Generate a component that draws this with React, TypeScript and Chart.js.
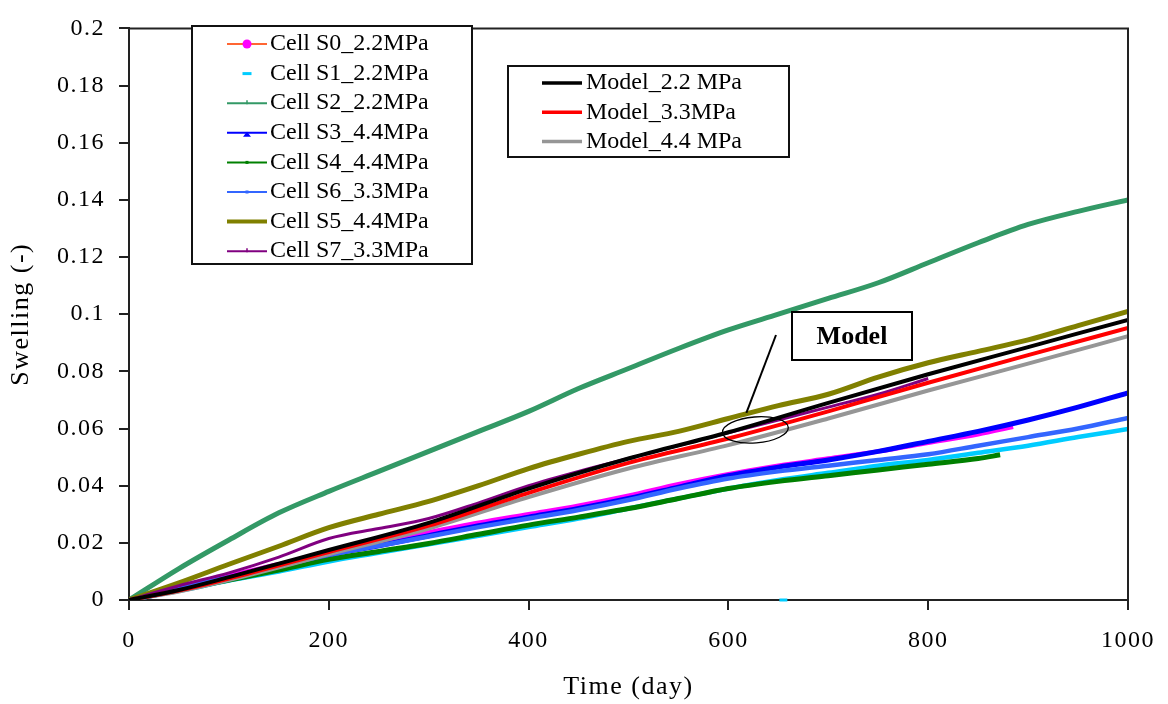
import React, { useEffect, useRef } from 'react';
import { Chart, registerables } from 'chart.js';

Chart.register(...registerables);

// ---------------- data ----------------
const DAYS = [0, 50, 100, 150, 200, 250, 300, 350, 400, 450, 500, 550, 600, 650, 700, 750, 800, 850, 900, 950, 1000];
const S0_DAYS = [0, 50, 100, 150, 200, 250, 300, 350, 400, 450, 500, 550, 600, 650, 700, 750, 800, 850, 885];
const S4_DAYS = [0, 50, 100, 150, 200, 250, 300, 350, 400, 450, 500, 550, 600, 650, 700, 750, 800, 850, 872];
const S7_DAYS = [0, 50, 100, 150, 200, 250, 300, 350, 400, 450, 500, 550, 600, 650, 700, 750, 800];
const MODEL_DAYS = [0, 50, 100, 200, 300, 400, 500, 600, 700, 800, 900, 1000];

const S0_VALUES = [0, 0.004, 0.0085, 0.0125, 0.0166, 0.02, 0.0236, 0.027, 0.03, 0.033, 0.0365, 0.0405, 0.044, 0.047, 0.0495, 0.052, 0.055, 0.058, 0.0606];
const S1_VALUES = [0, 0.0032, 0.0068, 0.01, 0.0135, 0.0165, 0.0195, 0.0225, 0.0255, 0.0285, 0.032, 0.0355, 0.039, 0.042, 0.0445, 0.047, 0.049, 0.0515, 0.054, 0.057, 0.0598];
const S1_OUTLIER_DAYS = [655];
const S1_OUTLIER_VALUES = [0];
const S2_VALUES = [0, 0.011, 0.021, 0.0305, 0.038, 0.045, 0.052, 0.059, 0.066, 0.074, 0.081, 0.088, 0.0945, 0.1, 0.1055, 0.111, 0.118, 0.125, 0.1314, 0.136, 0.14];
const S3_VALUES = [0, 0.0035, 0.0075, 0.0115, 0.0158, 0.019, 0.0225, 0.026, 0.029, 0.032, 0.0355, 0.0395, 0.0435, 0.0465, 0.049, 0.052, 0.0555, 0.059, 0.063, 0.0675, 0.0725];
const S4_VALUES = [0, 0.0035, 0.007, 0.0105, 0.0142, 0.017, 0.0198, 0.023, 0.0262, 0.029, 0.032, 0.0355, 0.039, 0.0415, 0.0435, 0.0455, 0.0475, 0.0495, 0.0508];
const S6_VALUES = [0, 0.004, 0.008, 0.0118, 0.0158, 0.019, 0.0222, 0.0255, 0.0285, 0.0315, 0.035, 0.039, 0.0425, 0.045, 0.047, 0.049, 0.051, 0.054, 0.057, 0.06, 0.0637];
const S5_VALUES = [0, 0.006, 0.0125, 0.0188, 0.0253, 0.03, 0.0345, 0.04, 0.046, 0.051, 0.0555, 0.059, 0.0635, 0.068, 0.072, 0.078, 0.083, 0.087, 0.091, 0.096, 0.101];
const S7_VALUES = [0, 0.005, 0.0095, 0.015, 0.0215, 0.025, 0.0285, 0.034, 0.04, 0.045, 0.0495, 0.054, 0.0585, 0.063, 0.0675, 0.072, 0.0775];
const MODEL_22_VALUES = [0, 0.0035, 0.008, 0.0175, 0.027, 0.039, 0.0495, 0.0587, 0.069, 0.079, 0.0885, 0.098];
const MODEL_33_VALUES = [0, 0.0033, 0.0075, 0.0168, 0.026, 0.0375, 0.048, 0.0565, 0.066, 0.076, 0.0857, 0.0952];
const MODEL_44_VALUES = [0, 0.003, 0.007, 0.016, 0.025, 0.036, 0.046, 0.0542, 0.0635, 0.0733, 0.0827, 0.0923];

const X_TICK_LABELS = ['0', '200', '400', '600', '800', '1000'];
const Y_TICK_LABELS = ['0', '0.02', '0.04', '0.06', '0.08', '0.1', '0.12', '0.14', '0.16', '0.18', '0.2'];

const CELL_LABELS = ['Cell S0_2.2MPa', 'Cell S1_2.2MPa', 'Cell S2_2.2MPa', 'Cell S3_4.4MPa', 'Cell S4_4.4MPa', 'Cell S6_3.3MPa', 'Cell S5_4.4MPa', 'Cell S7_3.3MPa'];
const MODEL_LABELS = ['Model_2.2 MPa', 'Model_3.3MPa', 'Model_4.4 MPa'];
const ANNOTATION_TEXT = 'Model';

// ---------------- styles ----------------
const SERIF = '"Liberation Serif", "Times New Roman", serif';
const C = {
  s0: '#ff00ff', s0Line: '#ff6633', s1: '#00ccff', s2: '#339966', s3: '#0000ff', s4: '#008000',
  s6: '#3366ff', s5: '#808000', s7: '#800080', m22: '#000000', m33: '#ff0000', m44: '#969696',
};

const pts = (days: number[], vals: number[]) => days.map((d, i) => ({ x: d, y: vals[i] }));

const line = (label: string, data: any[], color: string, width: number) => ({
  label, data, borderColor: color, backgroundColor: color, borderWidth: width,
  pointRadius: 0, fill: false, cubicInterpolationMode: 'monotone',
});

const datasets: any[] = [
  line(MODEL_LABELS[0], pts(MODEL_DAYS, MODEL_22_VALUES), C.m22, 4),
  line(MODEL_LABELS[1], pts(MODEL_DAYS, MODEL_33_VALUES), C.m33, 4),
  line(MODEL_LABELS[2], pts(MODEL_DAYS, MODEL_44_VALUES), C.m44, 4),
  line(CELL_LABELS[7], pts(S7_DAYS, S7_VALUES), C.s7, 3),
  line(CELL_LABELS[6], pts(DAYS, S5_VALUES), C.s5, 5),
  line(CELL_LABELS[5], pts(DAYS, S6_VALUES), C.s6, 4.5),
  line(CELL_LABELS[4], pts(S4_DAYS, S4_VALUES), C.s4, 5),
  line(CELL_LABELS[3], pts(DAYS, S3_VALUES), C.s3, 5),
  line(CELL_LABELS[2], pts(DAYS, S2_VALUES), C.s2, 5),
  line(CELL_LABELS[1], pts(DAYS, S1_VALUES), C.s1, 4.5),
  line(CELL_LABELS[0], pts(S0_DAYS, S0_VALUES), C.s0, 4.5),
  {
    label: CELL_LABELS[1] + ' (outlier)',
    data: pts(S1_OUTLIER_DAYS, S1_OUTLIER_VALUES),
    showLine: false, pointStyle: 'line', pointRadius: 4, pointBorderWidth: 3,
    borderColor: C.s1, backgroundColor: C.s1, clip: false,
  },
];

// legend marker types
type Marker = 'circle' | 'dash' | 'tick' | 'triangle' | 'dot' | 'none';
const CELL_LEGEND: { line: string | null; marker: Marker; mcolor: string; width: number }[] = [
  { line: C.s0Line, marker: 'circle', mcolor: C.s0, width: 2 },
  { line: null, marker: 'dash', mcolor: C.s1, width: 2 },
  { line: C.s2, marker: 'tick', mcolor: C.s2, width: 2 },
  { line: C.s3, marker: 'triangle', mcolor: C.s3, width: 2 },
  { line: C.s4, marker: 'dot', mcolor: C.s4, width: 2 },
  { line: C.s6, marker: 'dot', mcolor: C.s6, width: 2 },
  { line: C.s5, marker: 'none', mcolor: C.s5, width: 4 },
  { line: C.s7, marker: 'tick', mcolor: C.s7, width: 2 },
];
const MODEL_LEGEND = [C.m22, C.m33, C.m44];

const decor = {
  id: 'decor',
  beforeDraw(chart: any) {
    chart.ctx.letterSpacing = '1.5px';
  },
  afterDraw(chart: any) {
    const ctx = chart.ctx as CanvasRenderingContext2D;
    const { left, right, top, bottom } = chart.chartArea;
    const xs = chart.scales.x;
    const ys = chart.scales.y;
    ctx.save();
    (ctx as any).letterSpacing = '0px';

    // plot frame top and right
    ctx.strokeStyle = '#222';
    ctx.lineWidth = 2;
    ctx.beginPath();
    ctx.moveTo(left, top);
    ctx.lineTo(right, top);
    ctx.lineTo(right, bottom);
    ctx.stroke();

    // ----- legend 1 -----
    const L1 = { x: 192, y: 26, w: 280, h: 238 };
    ctx.fillStyle = '#fff';
    ctx.fillRect(L1.x, L1.y, L1.w, L1.h);
    ctx.strokeStyle = '#111';
    ctx.lineWidth = 2;
    ctx.strokeRect(L1.x, L1.y, L1.w, L1.h);
    ctx.font = `24px ${SERIF}`;
    ctx.textBaseline = 'middle';
    ctx.textAlign = 'left';
    CELL_LABELS.forEach((lab, i) => {
      const cy = 44 + i * 29.6;
      const st = CELL_LEGEND[i];
      const x0 = 227, x1 = 267, xm = 247;
      if (st.line) {
        ctx.strokeStyle = st.line;
        ctx.lineWidth = st.width;
        ctx.beginPath();
        ctx.moveTo(x0, cy);
        ctx.lineTo(x1, cy);
        ctx.stroke();
      }
      ctx.fillStyle = st.mcolor;
      ctx.strokeStyle = st.mcolor;
      if (st.marker === 'circle') {
        ctx.beginPath();
        ctx.arc(xm, cy, 4.5, 0, Math.PI * 2);
        ctx.fill();
      } else if (st.marker === 'dash') {
        ctx.fillRect(xm - 4.5, cy - 1.5, 9, 3);
      } else if (st.marker === 'tick') {
        ctx.lineWidth = 1.5;
        ctx.beginPath();
        ctx.moveTo(xm, cy - 3);
        ctx.lineTo(xm, cy + 1);
        ctx.stroke();
      } else if (st.marker === 'triangle') {
        ctx.beginPath();
        ctx.moveTo(xm, cy - 1);
        ctx.lineTo(xm - 4, cy + 4);
        ctx.lineTo(xm + 4, cy + 4);
        ctx.closePath();
        ctx.fill();
      } else if (st.marker === 'dot') {
        ctx.fillRect(xm - 1.5, cy - 1.5, 3, 3);
      }
      ctx.fillStyle = '#000';
      ctx.fillText(lab, 270, cy);
    });

    // ----- legend 2 -----
    const L2 = { x: 508, y: 66, w: 281, h: 91 };
    ctx.fillStyle = '#fff';
    ctx.fillRect(L2.x, L2.y, L2.w, L2.h);
    ctx.strokeStyle = '#111';
    ctx.lineWidth = 2;
    ctx.strokeRect(L2.x, L2.y, L2.w, L2.h);
    MODEL_LABELS.forEach((lab, i) => {
      const cy = 83 + i * 29.3;
      ctx.strokeStyle = MODEL_LEGEND[i];
      ctx.lineWidth = 3.5;
      ctx.beginPath();
      ctx.moveTo(542, cy);
      ctx.lineTo(582, cy);
      ctx.stroke();
      ctx.fillStyle = '#000';
      ctx.fillText(lab, 586, cy);
    });

    // ----- "Model" annotation -----
    const ex = xs.getPixelForValue(627);
    const ey = ys.getPixelForValue(0.0595);
    ctx.strokeStyle = '#000';
    ctx.lineWidth = 1.3;
    ctx.beginPath();
    ctx.ellipse(ex, ey, 33, 13, -0.08, 0, Math.PI * 2);
    ctx.stroke();
    ctx.lineWidth = 2;
    ctx.beginPath();
    ctx.moveTo(ex - 9, ey - 17);
    ctx.lineTo(776, 335);
    ctx.stroke();
    ctx.fillStyle = '#fff';
    ctx.fillRect(792, 312, 120, 48);
    ctx.strokeStyle = '#000';
    ctx.lineWidth = 2;
    ctx.strokeRect(792, 312, 120, 48);
    ctx.fillStyle = '#000';
    ctx.font = `bold 26px ${SERIF}`;
    ctx.textAlign = 'center';
    ctx.fillText(ANNOTATION_TEXT, 852, 337);
    ctx.restore();
  },
};

export default function App() {
  const ref = useRef<HTMLCanvasElement>(null);
  useEffect(() => {
    const axisFont = { family: SERIF, size: 24 };
    const titleFont = { family: SERIF, size: 26 };
    const chart = new Chart(ref.current as HTMLCanvasElement, {
      type: 'line',
      data: { datasets },
      options: {
        animation: false,
        responsive: true,
        maintainAspectRatio: false,
        layout: { padding: { left: 0, top: 22, right: 38, bottom: 0 } },
        plugins: { legend: { display: false }, tooltip: { enabled: false } },
        scales: {
          x: {
            type: 'linear',
            min: 0,
            max: 1000,
            afterFit: (s: any) => { s.height = 104; },
            grid: { display: true, drawOnChartArea: false, drawTicks: true, tickLength: 10, color: '#222', lineWidth: 2 },
            border: { display: true, color: '#222', width: 2 },
            ticks: {
              stepSize: 200, padding: 16, color: '#000', font: axisFont, maxRotation: 0, autoSkip: false,
              callback: (_v: any, i: number) => X_TICK_LABELS[i],
            },
            title: { display: true, text: 'Time (day)', color: '#000', font: titleFont, padding: { top: 0, bottom: 1 } },
          },
          y: {
            type: 'linear',
            min: 0,
            max: 0.2,
            afterFit: (s: any) => { s.width = 129; },
            grid: { display: true, drawOnChartArea: false, drawTicks: true, tickLength: 10, color: '#222', lineWidth: 2 },
            border: { display: true, color: '#222', width: 2 },
            ticks: {
              stepSize: 0.02, padding: 14, color: '#000', font: axisFont, autoSkip: false,
              callback: (_v: any, i: number) => Y_TICK_LABELS[i],
            },
            title: { display: true, text: 'Swelling (-)', color: '#000', font: titleFont, padding: { top: 6, bottom: 0 } },
          },
        },
      } as any,
      plugins: [decor as any],
    });
    return () => chart.destroy();
  }, []);
  return (
    <div style={{ position: 'fixed', left: 0, top: 0, width: 1168, height: 704, background: '#fff' }}>
      <canvas ref={ref} style={{ display: 'block' }} />
    </div>
  );
}
